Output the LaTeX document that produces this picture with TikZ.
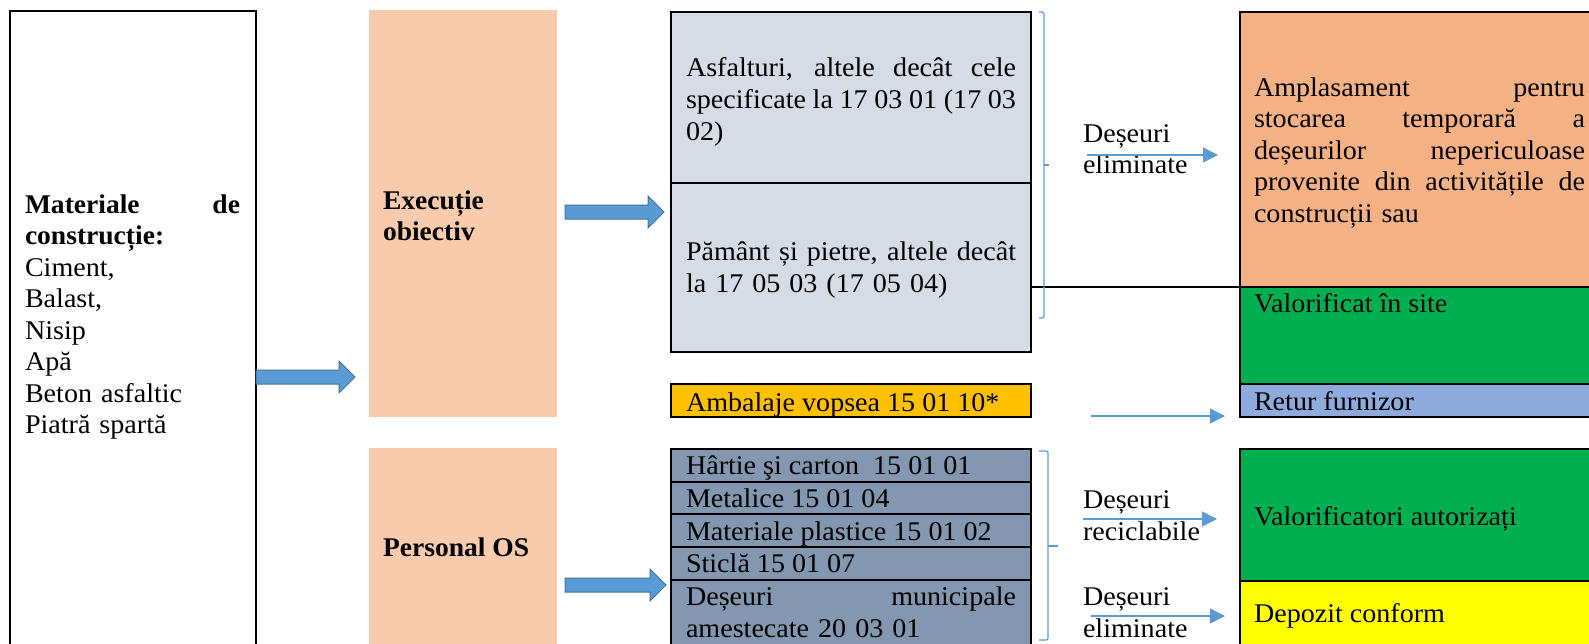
\documentclass[tikz,border=0pt]{standalone}
\usepackage{fontspec}
\setmainfont{Liberation Serif}[FakeStretch=1.04,BoldFeatures={FakeStretch=1.02}]
\usetikzlibrary{arrows.meta,calc}
\definecolor{peach}{HTML}{F8CBAD}
\definecolor{orangeb}{HTML}{F4B183}
\definecolor{greenb}{HTML}{00B050}
\definecolor{returb}{HTML}{8FAADC}
\definecolor{yellowb}{HTML}{FFFF00}
\definecolor{ambb}{HTML}{FFC000}
\definecolor{lightgb}{HTML}{D6DCE5}
\definecolor{bluegb}{HTML}{8497B0}
\definecolor{arrfill}{HTML}{5B9BD5}
\definecolor{arrdraw}{HTML}{41719C}
\newcommand\J[1]{\leavevmode\hbox to\hsize{\spaceskip=0pt\xspaceskip=0pt #1}}
\newcommand\blockarrow[2]{\path[blockarr] let \p1=(#1), \p2=(#2) in
  (\x1,\y1+7pt) -- (\x2-16pt,\y1+7pt) -- (\x2-16pt,\y1+16pt) -- (\x2,\y1) --
  (\x2-16pt,\y1-16pt) -- (\x2-16pt,\y1-7pt) -- (\x1,\y1-7pt) -- cycle;}
\begin{document}
\begin{tikzpicture}[x=1pt,y=-1pt,
  every node/.style={inner sep=0pt, outer sep=0pt},
  box/.style={draw=black, line width=2pt, anchor=north west},
  pbox/.style={fill=peach, anchor=north west},
  txt/.style={anchor=base west, font=\fontsize{27}{31.5}\selectfont},
  txtg/.style={anchor=base west, font=\fontsize{27}{32}\selectfont},
  btxt/.style={anchor=base west, font=\bfseries\fontsize{27}{31.2}\selectfont},
  blockarr/.style={fill=arrfill, draw=arrdraw, line width=1pt},
  thinarr/.style={draw=arrfill, line width=1.3pt, -{Triangle[length=15pt,width=15pt]}},
  bracket/.style={draw=arrfill, line width=1.2pt, rounded corners=2pt},
]
\useasboundingbox (0,0) rectangle (1589,643);
\clip (0,0) rectangle (1589,643);

% boxes
\node[box, fill=white, minimum width=246, minimum height=680] (mat) at (10,11) {};
\node[pbox, minimum width=188, minimum height=407] (exec) at (369,10) {};
\node[pbox, minimum width=188, minimum height=220] (pers) at (369,448) {};
\node[box, fill=lightgb, minimum width=360, minimum height=171] (asf) at (671,12) {};
\node[box, fill=lightgb, minimum width=360, minimum height=169] (pam) at (671,183) {};
\node[box, fill=ambb, minimum width=360, minimum height=33] (amb) at (671,384) {};
\node[box, fill=bluegb, minimum width=360, minimum height=33] (hart) at (671,449) {};
\node[box, fill=bluegb, minimum width=360, minimum height=32] (metal) at (671,482) {};
\node[box, fill=bluegb, minimum width=360, minimum height=33] (plast) at (671,514) {};
\node[box, fill=bluegb, minimum width=360, minimum height=33] (sticla) at (671,547) {};
\node[box, fill=bluegb, minimum width=360, minimum height=100] (munic) at (671,580) {};
\node[box, fill=orangeb, minimum width=400, minimum height=275] (ampl) at (1240,12) {};
\node[box, fill=greenb, minimum width=400, minimum height=97] (site) at (1240,287) {};
\node[box, fill=returb, minimum width=400, minimum height=33] (retur) at (1240,384) {};
\node[box, fill=greenb, minimum width=400, minimum height=132] (valor) at (1240,449) {};
\node[box, fill=yellowb, minimum width=400, minimum height=100] (depoz) at (1240,581) {};

% texts
\node[txt, text width=215] (matT) at (25,213)
  {\J{\textbf{Materiale de}}\\\textbf{construcție:}\\Ciment,\\Balast,\\Nisip\\Apă\\Beton asfaltic\\Piatră spartă};
\node[btxt, text width=160] (execT) at (383,209) {Execuție\\obiectiv};
\node[btxt] (persT) at (383,556) {Personal OS};
\node[txtg, text width=330] (asfT) at (686,76)
  {\J{Asfalturi, altele decât cele}\\\J{specificate la 17 03 01 (17 03}\\02)};
\node[txtg, text width=330] (pamT) at (686,260)
  {\J{Pământ și pietre, altele decât}\\la 17 05 03 (17 05 04)};
\node[txt] (ambT) at (686,411) {Ambalaje vopsea 15 01 10*};
\node[txt] (hartT) at (686,474) {Hârtie şi carton\ \ 15 01 01};
\node[txt] (metalT) at (686,507) {Metalice 15 01 04};
\node[txt] (plastT) at (686,540) {Materiale plastice 15 01 02};
\node[txt] (sticlaT) at (686,572) {Sticlă 15 01 07};
\node[txtg, text width=330] (municT) at (686,605) {\J{Deșeuri municipale}\\amestecate 20 03 01};
\node[txt, text width=331] (amplT) at (1254,96)
  {\J{Amplasament pentru}\\\J{stocarea temporară a}\\\J{deșeurilor nepericuloase}\\\J{provenite din activitățile de}\\construcții sau};
\node[txt] (siteT) at (1254,312) {Valorificat în site};
\node[txt] (returT) at (1254,410) {Retur furnizor};
\node[txt] (valorT) at (1254,525) {Valorificatori autorizați};
\node[txt] (depozT) at (1254,622) {Depozit conform};
\node[txt, text width=150] (lab1) at (1083,142) {Deșeuri\\eliminate};
\node[txtg, text width=150] (lab2) at (1083,508) {Deșeuri\\reciclabile};
\node[txtg, text width=150] (lab3) at (1083,605) {Deșeuri\\eliminate};

% black separator line
\draw[line width=2pt] (pam.east |- site.north west) -- (site.north west);

% brackets
\draw[bracket] (1039,12) -- (1044,12) -- (1044,318) -- (1039,318);
\draw[bracket] (1044,165) -- (1049,165);
\draw[bracket] (1039,451) -- (1048,451) -- (1048,640) -- (1039,640);
\draw[bracket] (1048,546) -- (1058,546);

% block arrows
\coordinate (a1s) at (256,377); \coordinate (a1e) at (355,377);
\coordinate (a2s) at (565,212); \coordinate (a2e) at (664,212);
\coordinate (a3s) at (565,585); \coordinate (a3e) at (666,585);
\blockarrow{a1s}{a1e}
\blockarrow{a2s}{a2e}
\blockarrow{a3s}{a3e}

% thin arrows
\coordinate (t1s) at (1087,155); \coordinate (t1e) at (1218,155);
\coordinate (t2s) at (1091,416); \coordinate (t2e) at (1225,416);
\coordinate (t3s) at (1083,519); \coordinate (t3e) at (1217,519);
\coordinate (t4s) at (1091,616); \coordinate (t4e) at (1225,616);
\draw[thinarr] (t1s) -- (t1e);
\draw[thinarr] (t2s) -- (t2e);
\draw[thinarr] (t3s) -- (t3e);
\draw[thinarr] (t4s) -- (t4e);
\end{tikzpicture}
\end{document}
